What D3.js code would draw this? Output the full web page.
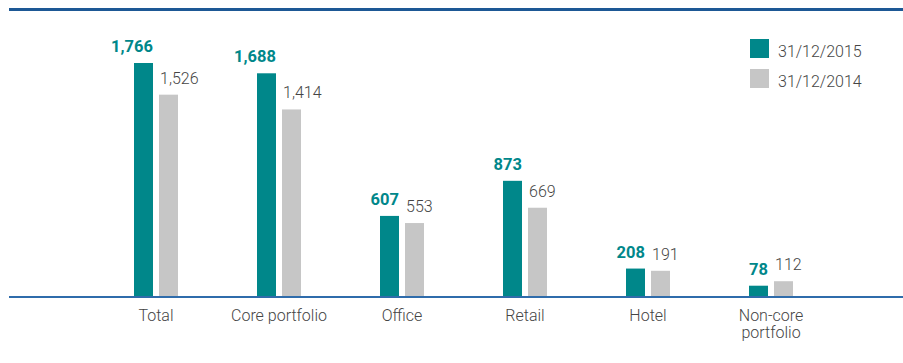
<!DOCTYPE html>
<html>
<head>
<meta charset="utf-8">
<script src="https://cdn.jsdelivr.net/npm/d3@7"></script>
<style>
  html, body { margin: 0; padding: 0; background: #ffffff; }
  svg { display: block; }
  text { font-family: Roboto, "Liberation Sans", sans-serif; }
</style>
</head>
<body>
<svg id="chart" width="903" height="363"></svg>
<script>
// Portfolio values by segment (two reporting dates)
const categories = ["Total", "Core portfolio", "Office", "Retail", "Hotel", "Non-core portfolio"];
const categoryLines = [["Total"], ["Core portfolio"], ["Office"], ["Retail"], ["Hotel"], ["Non-core", "portfolio"]];
const seriesNames = ["31/12/2015", "31/12/2014"];
const values2015 = [1766, 1688, 607, 873, 208, 78];
const values2014 = [1526, 1414, 553, 669, 191, 112];

const teal = "#00878a";
const grey = "#c6c6c6";
const textGrey = "#454545";

const svg = d3.select("#chart");

const baseY = 296;
const x0 = d3.scaleBand().domain(categories).range([94.5, 94.5 + 123 * categories.length]);
const x1 = d3.scaleBand().domain(seriesNames).range([-22, 22]).paddingInner(0.24);
const y = d3.scaleLinear().domain([0, 1766]).range([baseY, 63]);
const fmt = d3.format(",");

// Top rule
svg.append("rect").attr("x", 9).attr("y", 8).attr("width", 894).attr("height", 3).attr("fill", "#1d5895");

const series = [
  { name: seriesNames[0], values: values2015, color: teal },
  { name: seriesNames[1], values: values2014, color: grey }
];

const groups = svg.selectAll("g.cat")
  .data(categories)
  .join("g")
  .attr("class", "cat")
  .attr("transform", d => `translate(${x0(d) + x0.bandwidth() / 2},0)`);

series.forEach((s, si) => {
  groups.append("rect")
    .attr("x", x1(s.name))
    .attr("width", x1.bandwidth())
    .attr("y", (d, i) => y(s.values[i]))
    .attr("height", (d, i) => baseY - y(s.values[i]))
    .attr("fill", s.color);

  groups.append("text")
    .attr("x", si === 0 ? x1(s.name) + x1.bandwidth() : x1(s.name) + 1)
    .attr("y", (d, i) => y(s.values[i]) - 11)
    .attr("text-anchor", si === 0 ? "end" : "start")
    .attr("font-size", si === 0 ? "16.5px" : "16px")
    .attr("font-weight", si === 0 ? 700 : 300)
    .attr("fill", si === 0 ? teal : textGrey)
    .text((d, i) => fmt(s.values[i]));
});

// Baseline
svg.append("rect").attr("x", 9).attr("y", 296).attr("width", 894).attr("height", 2).attr("fill", "#2f6cab");

// Category labels
groups.each(function(d, i) {
  const t = d3.select(this).append("text")
    .attr("text-anchor", "middle")
    .attr("font-size", "16px")
    .attr("font-weight", 300)
    .attr("fill", textGrey)
    .attr("y", 320.5);
  categoryLines[i].forEach((line, li) => {
    t.append("tspan").attr("x", 0).attr("dy", li === 0 ? 0 : 17.5).text(line);
  });
});

// Legend
const legend = svg.append("g").attr("transform", "translate(750,39)");
series.forEach((s, i) => {
  const row = legend.append("g").attr("transform", `translate(0,${i * 30})`);
  row.append("rect").attr("width", 19).attr("height", 19).attr("fill", s.color);
  row.append("text")
    .attr("x", 28).attr("y", 18)
    .attr("font-size", "16px")
    .attr("font-weight", 300)
    .attr("fill", textGrey)
    .text(s.name);
});
</script>
</body>
</html>
